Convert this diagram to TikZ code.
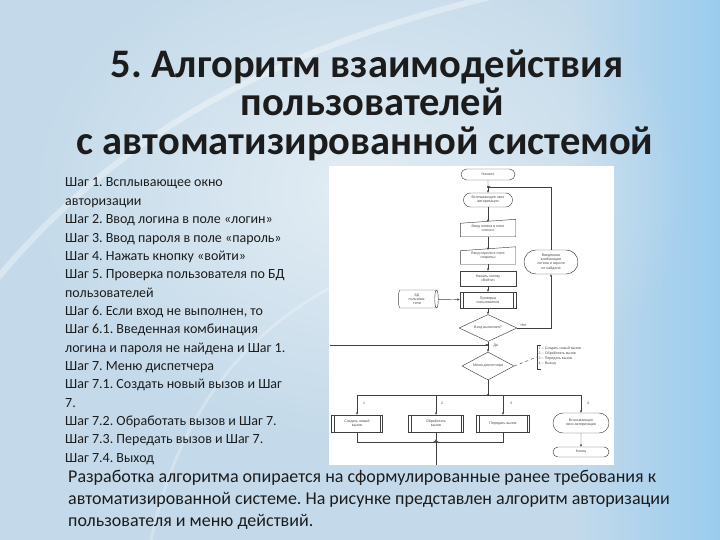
\documentclass[tikz,border=0pt]{standalone}
\usepackage{fontspec}
\setmainfont{Carlito}
\newfontfamily\fcfont{Liberation Sans}
\usetikzlibrary{shapes.geometric,shapes.misc,arrows.meta,fadings}
\definecolor{bgA}{HTML}{C4DAEA}
\definecolor{bgB}{HTML}{EEF4F8}
\definecolor{bgR}{HTML}{9ACCEE}
\definecolor{ink}{HTML}{1C1C1C}
\tikzfading[name=softglow, inner color=transparent!0, outer color=transparent!100]
\frenchspacing
\begin{document}
\begin{tikzpicture}[x=1pt,y=-1pt,
  >={Stealth[length=2.6pt,width=2.2pt]},
  fc/.style={font=\fcfont\fontsize{3.6}{4.2}\selectfont, text=black!70, align=center, inner sep=0.5pt, draw=black!75, line width=0.45pt},
  term/.style={fc, rounded rectangle},
  proc/.style={fc, rectangle},
  manual/.style={fc, rectangle, draw=none},
  dec/.style={fc, diamond, inner sep=0pt, aspect=2},
  lbl/.style={font=\fcfont\fontsize{3.6}{4.2}\selectfont, text=black!70, inner sep=0.3pt},
  conn/.style={draw=black!75, line width=0.45pt},
  title/.style={font=\bfseries\fontsize{40.5}{40}\selectfont, text=ink, inner sep=0pt},
  leftline/.style={font=\fontsize{14}{16}\selectfont, text=ink, anchor=base west, inner sep=0pt},
  botline/.style={font=\fontsize{18}{22}\selectfont, text=ink, anchor=base west, inner sep=0pt},
]
\useasboundingbox (0,0) rectangle (720,540);
% background
\fill[bgA] (0,0) rectangle (720,540);
\shade[left color=bgA, right color=bgR] (570,0) rectangle (720,540);
\fill[bgB, path fading=softglow, opacity=0.75] (360,190) ellipse (330 and 250);
\draw[white, opacity=0.35, line width=6pt] (-20,300) .. controls (120,120) and (300,40) .. (520,-10);
\draw[white, opacity=0.25, line width=3pt] (150,545) .. controls (180,400) and (260,300) .. (420,250);

% title
\node[title, anchor=base] (t1) at (367,78) {5. Алгоритм взаимодействия};
\node[title, anchor=base] (t2) at (372,116) {пользователей};
\node[title, anchor=base] (t3) at (365,155) {с автоматизированной системой};

% left text
\foreach \t [count=\i] in {Шаг 1. Всплывающее окно, авторизации, Шаг 2. Ввод логина в поле «логин», Шаг 3. Ввод пароля в поле «пароль», Шаг 4. Нажать кнопку «войти», Шаг 5. Проверка пользователя по БД, пользователей, {Шаг 6. Если вход не выполнен, то}, Шаг 6.1. Введенная комбинация, логина и пароля не найдена и Шаг 1., Шаг 7. Меню диспетчера, Шаг 7.1. Создать новый вызов и Шаг, 7., Шаг 7.2. Обработать вызов и Шаг 7., Шаг 7.3. Передать вызов и Шаг 7., Шаг 7.4. Выход}
  \node[leftline] (s\i) at (65,{187+18.35*(\i-1)}) {\t};

% bottom text
\node[botline] (p1) at (68,482) {Разработка алгоритма опирается на сформулированные ранее требования к};
\node[botline] (p2) at (68,504) {автоматизированной системе.  На рисунке представлен алгоритм авторизации};
\node[botline] (p3) at (68,526) {пользователя и меню действий.};

% flowchart sheet
\fill[white] (329,166) rectangle (614,465);

% nodes
\node[term, minimum width=55pt, minimum height=11pt] (start) at (488,174.5) {Начало};
\coordinate (j1) at (488,187);
\node[term, minimum width=50pt, minimum height=14pt] (popup) at (488,200) {Всплывающее окно\\авторизации};
\node[manual, minimum width=55pt, minimum height=17pt] (login) at (488,228) {Ввод логина в поле\\«логин»};
\node[manual, minimum width=55pt, minimum height=17pt] (pass) at (488,255.5) {Ввод пароля в поле\\«пароль»};
\node[proc, minimum width=56pt, minimum height=15pt] (btn) at (488,278.5) {Нажать кнопку\\«Войти»};
\node[proc, minimum width=56pt, minimum height=16pt] (check) at (488,300) {Проверка\\пользователя};
\node[fc, cylinder, aspect=0.3, minimum width=18pt, minimum height=40pt] (db) at (417,299) {БД\\пользова-\\тели};
\node[dec, minimum width=58pt, minimum height=27pt] (d1) at (488,328) {Вход выполнен?};
\node[term, minimum width=55pt, minimum height=24pt] (fail) at (551,262) {Введенная\\комбинация\\логина и пароля\\не найдена};
\coordinate (lc) at (551,187);
\coordinate (j2) at (488,345);
\coordinate (lin) at (330,345);
\node[dec, minimum width=52pt, minimum height=28pt] (d2) at (488,366) {Меню диспетчера};
\coordinate (j3) at (488,395);
\node[proc, minimum width=51pt, minimum height=17pt] (b1) at (357,423.5) {Создать новый\\вызов};
\node[proc, minimum width=55pt, minimum height=17pt] (b2) at (436,423.5) {Обработать\\вызов};
\node[proc, minimum width=53pt, minimum height=17pt] (b3) at (503,423.5) {Передать вызов};
\node[term, minimum width=57pt, minimum height=20pt] (b4) at (581,423) {Всплывающее\\окно авторизации};
\node[term, minimum width=57pt, minimum height=10pt] (end) at (581,452) {Конец};
\coordinate (bl) at (357,395);
\coordinate (br) at (581,395);
\coordinate (j4) at (436,442);
\coordinate (jout) at (436,465);
\coordinate (nb) at (537,357);

% manual input outlines
\foreach \n in {login,pass}
  \draw[conn] (\n.south west) -- (\n.south east) -- (\n.north east) -- ([yshift=-4pt]\n.north west) -- cycle;
% predefined process side bars
\foreach \n in {check,b1,b2,b3}{
  \draw[conn] ([xshift=3pt]\n.north west) -- ([xshift=3pt]\n.south west);
  \draw[conn] ([xshift=-3pt]\n.north east) -- ([xshift=-3pt]\n.south east);}

% connectors
\draw[conn] (start) -- (j1);
\draw[conn,->] (j1) -- (popup);
\draw[conn,->] (popup) -- (login.north |- 0,{222});
\draw[conn,->] (login) -- (pass.north |- 0,{250});
\draw[conn,->] (pass) -- (btn);
\draw[conn,->] (btn) -- (check);
\draw[conn,->] (db) -- (check);
\draw[conn,->] (check) -- (d1);
\draw[conn,->] (d1.east) -| (fail.south);
\node[lbl, anchor=south west] (no) at (520,327) {Нет};
\draw[conn,->] (fail.north) -- (lc) -- (j1);
\draw[conn] (d1.south) -- (j2);
\draw[conn,->] (j2) -- (d2.north);
\draw[conn,->] (lin) -- (j2);
\node[lbl, anchor=west] (yes) at (493,346) {Да};
\draw[conn] (d2.south) -- (j3);
\draw[conn] (bl) -- (br);
\draw[conn,->] (bl) -- (b1.north);
\draw[conn,->] (b2.north |- j3) -- (b2.north);
\draw[conn,->] (b3.north |- j3) -- (b3.north);
\draw[conn,->] (br) -- (b4.north);
\draw[conn,->] (b4) -- (end);
\node[lbl] (n1) at (364,403) {1};
\node[lbl] (n2) at (442,403) {2};
\node[lbl] (n3) at (511,403) {3};
\node[lbl] (n4) at (588,403) {4};
\draw[conn,->] (b1.south) |- (j4);
\draw[conn,->] (b3.south) |- (j4);
\draw[conn,->] (b2.south) -- (j4);
\draw[conn] (j4) -- (jout);
\foreach \p in {j1,j2,j3,j4} \fill[black!80] (\p) circle (1.1);

% comment
\draw[conn, dashed] (d2.east) -- (nb);
\draw[conn] (541,345) -- (537,345) -- (537,369) -- (541,369);
\node[lbl, anchor=west] (c1) at (538,349) {1 -- Создать новый вызов};
\node[lbl, anchor=west] (c2) at (538,354) {2 -- Обработать вызов};
\node[lbl, anchor=west] (c3) at (538,359) {3 -- Передать вызов};
\node[lbl, anchor=west] (c4) at (538,364) {4 -- Выход};
\end{tikzpicture}
\end{document}
